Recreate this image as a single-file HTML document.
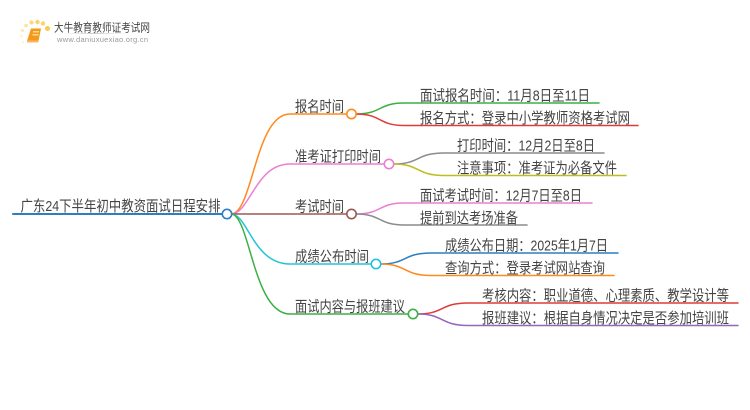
<!DOCTYPE html>
<html><head><meta charset="utf-8"><style>
html,body{margin:0;padding:0;background:#fff}
svg{display:block}
text{font-family:"Liberation Sans","Noto Sans CJK SC",sans-serif;fill:#444;font-size:15px;filter:blur(.25px)}
path,line{fill:none;stroke-width:1.5;stroke-linecap:round}
circle{fill:#fff;stroke-width:1.6}
</style></head><body>
<svg width="750" height="410" viewBox="0 0 750 410" xmlns="http://www.w3.org/2000/svg">
<defs><linearGradient id="u"><stop offset="0" stop-color="#ddd" stop-opacity="0"/><stop offset=".5" stop-color="#ccc"/><stop offset="1" stop-color="#ddd" stop-opacity="0"/></linearGradient></defs>
<!-- logo -->
<g style="stroke:none">
<circle cx="47.500" cy="28.500" r="2.500" style="fill:#fbc94f;stroke:none"/>
<circle cx="43" cy="23.500" r="2.200" style="fill:#fbd36a;stroke:none"/>
<circle cx="37.500" cy="22" r="2.200" style="fill:#fbd36a;stroke:none"/>
<circle cx="31.500" cy="22.500" r="2.100" style="fill:#fbd978;stroke:none"/>
<circle cx="26" cy="25.500" r="1.800" style="fill:#fde09a;stroke:none"/>
<circle cx="22.500" cy="30.500" r="1.500" style="fill:#fde6b0;stroke:none"/>
<circle cx="21.500" cy="36" r="1.200" style="fill:#fdeec4;stroke:none"/>
<circle cx="23" cy="42" r="1" style="fill:#fdeec4;stroke:none"/>
<polygon points="31,28.500 41,28.500 38.500,41 27,41" style="fill:#f39a1c"/>
<polygon points="27,40.500 38.500,40.500 38.500,42.500 27,42.500" style="fill:#f8b868"/>
<rect x="33" y="31" width="6" height="1.500" style="fill:#ffd98c"/>
<rect x="32.500" y="34" width="6" height="1.500" style="fill:#ffd98c"/>
</g>
<text x="54" y="31.500" textLength="96" lengthAdjust="spacingAndGlyphs" style="font-size:11.500px;fill:#444">大牛教育教师证考试网</text>
<rect x="60" y="33" width="70" height="1" fill="url(#u)"/>
<text x="57" y="42" textLength="91" lengthAdjust="spacing" style="font-size:7.500px;fill:#999">www.daniuxuexiao.org.cn</text>
<!-- root -->
<line x1="13" y1="214" x2="222" y2="214" stroke="#2c7fc0" style="stroke-width:2"/>
<text x="20.500" y="211" textLength="200" lengthAdjust="spacingAndGlyphs">广东24下半年初中教资面试日程安排</text>
<!-- branches -->
<path d="M231 214C253 214 255 114 290 114H346" stroke="#ff8a1e"/>
<path d="M231 214C250 214 255 164 290 164H384" stroke="#ec7fd0"/>
<path d="M231 214H346" stroke="#9a5a50"/>
<path d="M231 214C248 214 253 264 290 264H371" stroke="#22c4d8"/>
<path d="M231 214C250 214 253 314 290 314H408" stroke="#3cb043"/>
<!-- children -->
<path d="M356 114C382 114 378 103 404 103H599" stroke="#3cb043"/>
<path d="M356 114C382 114 378 125.500 404 125.500H638" stroke="#e03a3a"/>
<path d="M394 164C420 164 416 153 444 153H604" stroke="#8c8c8c"/>
<path d="M394 164C420 164 416 175.500 444 175.500H626" stroke="#bcbd22"/>
<path d="M356 214C382 214 378 203 404 203H592" stroke="#ec7fd0"/>
<path d="M356 214C382 214 378 225 404 225H527" stroke="#8c8c8c"/>
<path d="M381 264C407 264 403 253 431 253H618" stroke="#2c7fc0"/>
<path d="M381 264C407 264 403 275.500 431 275.500H614" stroke="#ff8a1e"/>
<path d="M418 314C444 314 440 303 468 303H738" stroke="#e03a3a"/>
<path d="M418 314C444 314 440 325.500 468 325.500H738" stroke="#9467bd"/>
<!-- nodes -->
<circle cx="227" cy="214" r="4.700" stroke="#2c7fc0"/>
<circle cx="351.500" cy="114" r="4.700" stroke="#ff8a1e"/>
<circle cx="389" cy="164" r="4.700" stroke="#ec7fd0"/>
<circle cx="351.500" cy="214" r="4.700" stroke="#9a5a50"/>
<circle cx="376" cy="264" r="4.700" stroke="#22c4d8"/>
<circle cx="413" cy="314" r="4.700" stroke="#3cb043"/>
<!-- level 1 labels -->
<text x="295" y="111.500" textLength="49" lengthAdjust="spacingAndGlyphs">报名时间</text>
<text x="295" y="161.500" textLength="86" lengthAdjust="spacingAndGlyphs">准考证打印时间</text>
<text x="295" y="211.500" textLength="49" lengthAdjust="spacingAndGlyphs">考试时间</text>
<text x="295" y="261.500" textLength="74" lengthAdjust="spacingAndGlyphs">成绩公布时间</text>
<text x="295" y="311.500" textLength="110" lengthAdjust="spacingAndGlyphs">面试内容与报班建议</text>
<!-- level 2 labels -->
<text x="420" y="100.500" textLength="170" lengthAdjust="spacingAndGlyphs">面试报名时间：11月8日至11日</text>
<text x="420" y="123" textLength="210" lengthAdjust="spacingAndGlyphs">报名方式：登录中小学教师资格考试网</text>
<text x="457" y="150.500" textLength="138" lengthAdjust="spacingAndGlyphs">打印时间：12月2日至8日</text>
<text x="457" y="173" textLength="160" lengthAdjust="spacingAndGlyphs">注意事项：准考证为必备文件</text>
<text x="420" y="200.500" textLength="162" lengthAdjust="spacingAndGlyphs">面试考试时间：12月7日至8日</text>
<text x="420" y="223" textLength="98" lengthAdjust="spacingAndGlyphs">提前到达考场准备</text>
<text x="445" y="250.500" textLength="163" lengthAdjust="spacingAndGlyphs">成绩公布日期：2025年1月7日</text>
<text x="445" y="273" textLength="160" lengthAdjust="spacingAndGlyphs">查询方式：登录考试网站查询</text>
<text x="482" y="300.500" textLength="247" lengthAdjust="spacingAndGlyphs">考核内容：职业道德、心理素质、教学设计等</text>
<text x="482" y="323" textLength="247" lengthAdjust="spacingAndGlyphs">报班建议：根据自身情况决定是否参加培训班</text>
</svg>
</body></html>
